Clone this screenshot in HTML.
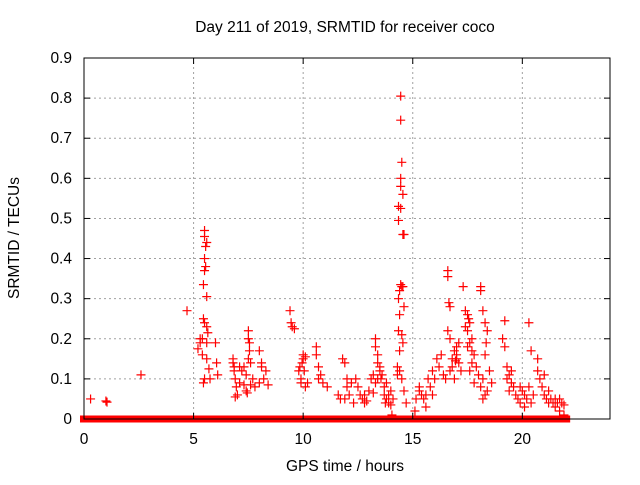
<!DOCTYPE html>
<html><head><meta charset="utf-8"><style>
body{margin:0;background:#fff;font-family:"Liberation Sans",sans-serif}
svg text{font-family:"Liberation Sans",sans-serif;font-size:15.5px;fill:#000}
</style></head><body>
<svg id="c" width="640" height="480">
<text x="345" y="32" text-anchor="middle">Day 211 of 2019, SRMTID for receiver coco</text>
<text x="345" y="471" text-anchor="middle">GPS time / hours</text>
<text transform="translate(19,238) rotate(-90)" text-anchor="middle">SRMTID / TECUs</text>
<g id="grid"></g><g id="marks"></g><g id="axes"></g>
</svg>
<script>
const xTicks=[0,5,10,15,20];
const yTicks=[0,0.1,0.2,0.3,0.4,0.5,0.6,0.7,0.8,0.9];
const yTickLabels=["0","0.1","0.2","0.3","0.4","0.5","0.6","0.7","0.8","0.9"];
const zeroRuns=[[0,1.2],[1.3,2.4],[2.5,3.6],[3.7,5.7],[5.8,6.6],[6.7,14.3],[14.4,15.9],[16.0,22.0]];
const hours=[0.3,1,1.05,2.6,4.7,5.4,5.3,5.5,5.5,5.6,5.55,5.5,5.55,5.5,5.45,5.6,5.45,5.5,5.6,5.65,5.6,5.4,5.6,5.5,5.45,5.7,5.75,5.2,5.3,6.0,6.05,6.1,
6.8,6.8,6.85,6.85,6.9,6.95,6.9,7.0,7.1,7.1,7.2,7.3,7.4,7.3,7.4,7.5,7.5,7.55,7.55,7.5,7.6,7.7,7.8,7.6,7.45,8.0,8.1,8.1,8.0,8.3,8.4,8.2,
9.4,9.45,9.5,9.6,9.8,9.9,9.85,10.0,10.0,10.1,9.95,10.2,10.05,10.1,9.9,10.6,10.6,10.7,10.8,10.9,10.7,11.1,
11.6,11.7,11.8,11.9,12.0,12.0,12.1,11.9,12.2,12.3,12.4,12.6,12.7,12.8,12.9,12.8,13.0,12.5,
13.1,13.2,13.3,13.3,13.4,13.4,13.5,13.5,13.4,13.6,13.3,13.2,13.55,13.7,13.8,13.9,14.0,13.7,13.9,14.0,14.1,14.05,13.8,13.75,
14.45,14.45,14.5,14.45,14.45,14.55,14.35,14.45,14.35,14.6,14.55,14.45,14.5,14.55,14.4,14.35,14.6,14.4,14.35,14.5,14.55,14.4,14.3,14.4,14.5,14.6,14.7,14.3,
15.1,15.15,15.3,15.3,15.4,15.5,15.6,15.7,15.8,15.9,16.0,15.6,15.9,16.1,16.2,16.3,16.4,16.5,
16.6,16.6,16.65,16.7,16.6,16.7,16.8,16.9,17.0,17.1,16.8,17.0,16.7,16.9,17.2,17.1,17.0,16.95,
17.3,17.4,17.5,17.4,17.5,17.6,17.6,17.5,17.7,17.8,17.7,17.9,17.6,18.0,17.8,17.7,17.55,
18.1,18.1,18.2,18.3,18.4,18.35,18.3,18.2,18.1,18.3,18.4,18.5,18.6,18.2,
19.2,19.1,19.2,19.3,19.4,19.3,19.5,19.6,19.4,19.7,19.5,19.8,19.9,20.0,20.1,20.2,20.3,20.4,20.3,20.5,20.1,20.4,19.9,
20.7,20.7,20.8,20.9,21.0,21.0,21.1,21.2,21.3,21.4,21.5,21.6,21.7,21.8,21.9,21.5,21.2,21.7,21.9];
const values=[0.05,0.045,0.042,0.11,0.27,0.2,0.19,0.47,0.455,0.44,0.43,0.4,0.38,0.37,0.335,0.305,0.25,0.24,0.23,0.215,0.19,0.16,0.15,0.1,0.09,0.125,0.1,0.175,0.2,0.19,0.14,0.11,
0.15,0.14,0.13,0.12,0.1,0.08,0.055,0.06,0.09,0.13,0.12,0.13,0.11,0.085,0.07,0.22,0.2,0.19,0.17,0.15,0.14,0.1,0.08,0.085,0.065,0.17,0.13,0.14,0.09,0.12,0.085,0.1,
0.27,0.24,0.23,0.225,0.12,0.1,0.13,0.15,0.16,0.155,0.14,0.09,0.12,0.08,0.09,0.18,0.16,0.13,0.11,0.09,0.1,0.08,
0.06,0.05,0.15,0.14,0.1,0.08,0.06,0.05,0.09,0.04,0.1,0.06,0.05,0.04,0.045,0.06,0.07,0.08,
0.1,0.11,0.2,0.18,0.16,0.14,0.13,0.12,0.1,0.11,0.09,0.065,0.1,0.06,0.05,0.04,0.035,0.08,0.06,0.07,0.05,0.01,0.09,0.04,
0.805,0.745,0.64,0.6,0.58,0.56,0.53,0.525,0.495,0.46,0.46,0.335,0.33,0.33,0.32,0.3,0.28,0.26,0.22,0.21,0.19,0.17,0.13,0.12,0.1,0.07,0.04,0.11,
0.02,0.05,0.07,0.08,0.06,0.05,0.06,0.1,0.08,0.12,0.1,0.03,0.06,0.15,0.13,0.16,0.11,0.1,
0.37,0.355,0.29,0.28,0.22,0.2,0.15,0.17,0.16,0.14,0.13,0.18,0.12,0.1,0.12,0.19,0.15,0.145,
0.33,0.27,0.26,0.23,0.22,0.24,0.19,0.18,0.17,0.16,0.14,0.13,0.12,0.11,0.09,0.2,0.25,
0.33,0.32,0.27,0.24,0.22,0.19,0.16,0.1,0.08,0.06,0.07,0.12,0.09,0.05,
0.245,0.2,0.18,0.13,0.11,0.1,0.09,0.08,0.07,0.06,0.12,0.05,0.04,0.07,0.06,0.05,0.24,0.17,0.08,0.06,0.03,0.04,0.08,
0.15,0.12,0.1,0.08,0.06,0.11,0.05,0.04,0.05,0.04,0.03,0.04,0.05,0.04,0.035,0.05,0.07,0.02,0.01];
const X0=84,X1=610,Y0=419,Y1=58,XMAX=24,YMAX=0.9;
function sx(h){return X0+(X1-X0)*h/XMAX;}
function sy(v){return Y0-(Y0-Y1)*v/YMAX;}
const NS="http://www.w3.org/2000/svg";
function mk(t,a,p){const e=document.createElementNS(NS,t);for(const k in a)e.setAttribute(k,a[k]);p.appendChild(e);return e;}
const grid=document.getElementById('grid'),marks=document.getElementById('marks'),axes=document.getElementById('axes');
yTicks.forEach((v,i)=>{
 if(v>0){const g=mk('line',{x1:X0,x2:X1,y1:sy(v),y2:sy(v),stroke:'#a0a0a0','stroke-dasharray':'2,3'},grid);
 
 }
 const t=mk('text',{x:X0-12,y:sy(v)+5,'text-anchor':'end'},axes);t.textContent=yTickLabels[i];
 
 
 mk('line',{x1:X0,x2:X0+6,y1:sy(v),y2:sy(v),stroke:'#000'},axes);
 mk('line',{x1:X1,x2:X1-6,y1:sy(v),y2:sy(v),stroke:'#000'},axes);
});
xTicks.forEach(h=>{
 if(h>0){const g=mk('line',{x1:sx(h),x2:sx(h),y1:Y0,y2:Y1,stroke:'#a0a0a0','stroke-dasharray':'2,3'},grid);
 
 }
 const t=mk('text',{x:sx(h),y:Y0+25,'text-anchor':'middle'},axes);t.textContent=String(h);
 
 
 mk('line',{x1:sx(h),x2:sx(h),y1:Y0,y2:Y0-6,stroke:'#000'},axes);
 mk('line',{x1:sx(h),x2:sx(h),y1:Y1,y2:Y1+6,stroke:'#000'},axes);
});
const fr=mk('rect',{x:X0,y:Y1,width:X1-X0,height:Y0-Y1,fill:'none',stroke:'#000'},axes);


zeroRuns.forEach(r=>{
 const e=mk('rect',{x:sx(r[0])-4,y:Y0-3.5,width:sx(r[1])-sx(r[0])+8,height:7,fill:'#ff0000'},marks);
 
 
});
hours.forEach((h,i)=>{
 const x=sx(h),y=sy(values[i]);
 const p=mk('path',{d:`M${x-4.5} ${y}H${x+4.5}M${x} ${y-4.5}V${y+4.5}`,stroke:'#ff0000','stroke-width':1.2,fill:'none'},marks);
 
 
});
</script>
</body></html>
